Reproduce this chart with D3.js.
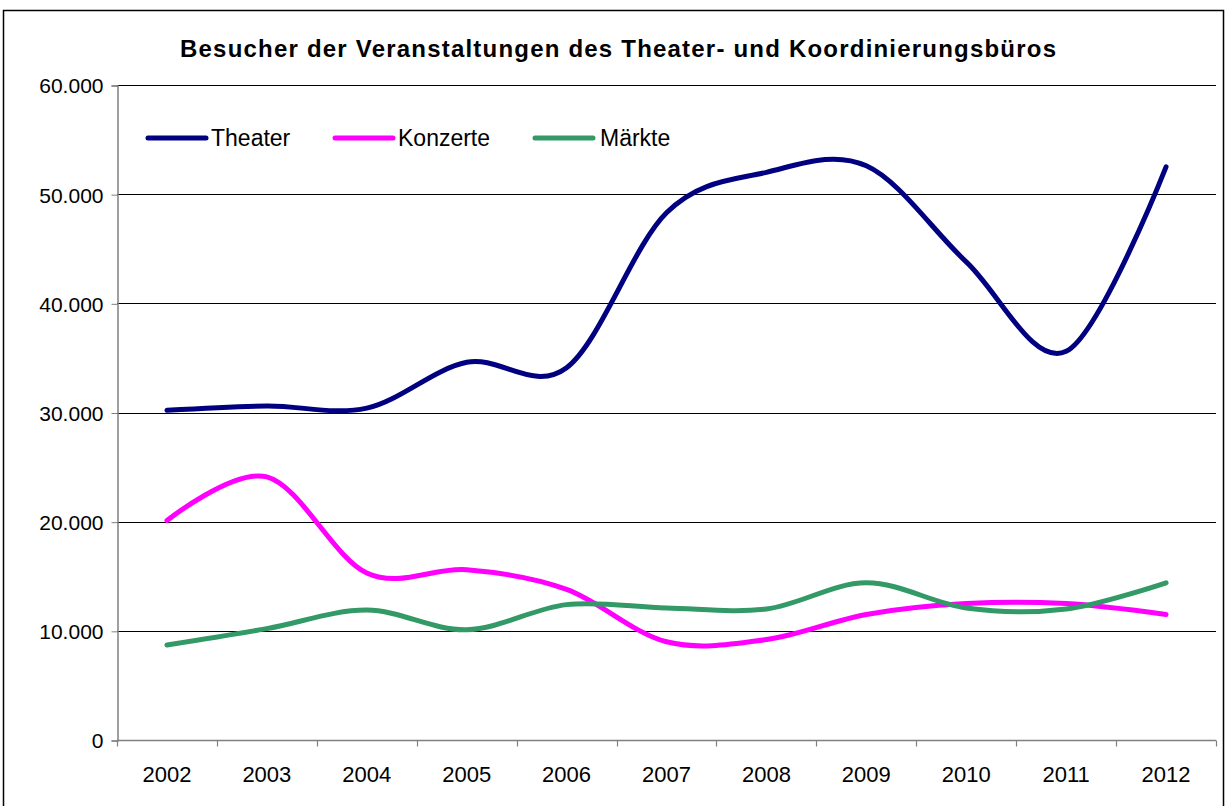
<!DOCTYPE html>
<html>
<head>
<meta charset="utf-8">
<script src="https://cdn.jsdelivr.net/npm/d3@7"></script>
<style>
  html, body { margin: 0; padding: 0; background: #fff; }
  svg { display: block; }
  text { font-family: "Liberation Sans", Arial, sans-serif; fill: #000; }
</style>
</head>
<body>
<svg id="chart" width="1226" height="806"></svg>
<script>
const title = "Besucher der Veranstaltungen des Theater- und Koordinierungsbüros";
const years = ["2002","2003","2004","2005","2006","2007","2008","2009","2010","2011","2012"];
const theater  = [30200, 30600, 30400, 34600, 34100, 48300, 52000, 52600, 43800, 35600, 52500];
const konzerte = [20100, 24100, 15300, 15600, 13800, 9000, 9200, 11500, 12500, 12500, 11500];
const maerkte  = [8700, 10200, 11900, 10100, 12400, 12100, 12000, 14400, 12100, 12000, 14400];
const seriesNames = ["Theater", "Konzerte", "Märkte"];
const seriesColors = ["#000080", "#FF00FF", "#339966"];
const yTicks = [0, 10000, 20000, 30000, 40000, 50000, 60000];

const series = [theater, konzerte, maerkte].map((vals, i) => ({
  name: seriesNames[i], color: seriesColors[i], values: vals
}));

const svg = d3.select("#chart");
const plotL = 117, plotR = 1216, plotT = 85, plotB = 740;

const x = d3.scaleBand().domain(years).range([plotL, plotR]).paddingInner(0).paddingOuter(0);
const y = d3.scaleLinear().domain([0, 60000]).range([plotB, plotT]);
const fmt = v => d3.format(",")(v).replace(/,/g, ".");

// outer frame
svg.append("rect").attr("x", 3.5).attr("y", 10.5).attr("width", 1220).attr("height", 806)
  .attr("fill", "none").attr("stroke", "#000").attr("stroke-width", 1.5);

// title
svg.append("text").attr("x", 618).attr("y", 57).attr("text-anchor", "middle")
  .attr("font-size", 24).attr("font-weight", "bold")
  .attr("textLength", 876).attr("lengthAdjust", "spacing")
  .text(title);

// gridlines
svg.append("g").selectAll("line").data(yTicks.filter(d => d > 0)).join("line")
  .attr("x1", plotL).attr("x2", plotR)
  .attr("y1", d => Math.round(y(d)) + 0.5).attr("y2", d => Math.round(y(d)) + 0.5)
  .attr("stroke", "#000").attr("stroke-width", 1);

// y axis
const yAxis = d3.axisLeft(y).tickValues(yTicks).tickFormat(fmt).tickSize(6).tickPadding(8);
const gy = svg.append("g").attr("transform", `translate(${plotL + 0.5},0.5)`).call(yAxis);
gy.select(".domain").attr("stroke", "#808080").attr("stroke-width", 1.5);
gy.selectAll(".tick line").attr("stroke", "#808080");
gy.selectAll(".tick text").attr("font-size", 21).attr("font-family", "Liberation Sans, Arial, sans-serif").attr("fill", "#000").attr("dy", "0.35em");

// x axis (ticks between categories)
const gx = svg.append("g").attr("transform", `translate(0,${plotB + 0.5})`);
gx.append("line").attr("x1", plotL).attr("x2", plotR).attr("y1", 0).attr("y2", 0)
  .attr("stroke", "#808080").attr("stroke-width", 1.5);
const boundaries = years.map(d => x(d)).concat([x(years[years.length - 1]) + x.bandwidth()]);
gx.selectAll("line.t").data(boundaries).join("line").attr("class", "t")
  .attr("x1", d => Math.round(d) + 0.5).attr("x2", d => Math.round(d) + 0.5)
  .attr("y1", 0).attr("y2", 6).attr("stroke", "#808080").attr("stroke-width", 1.2);
gx.selectAll("text").data(years).join("text")
  .attr("x", d => x(d) + x.bandwidth() / 2).attr("y", 41)
  .attr("text-anchor", "middle").attr("font-size", 22).text(d => d);

// lines
const line = d3.line()
  .x((d, i) => x(years[i]) + x.bandwidth() / 2)
  .y(d => y(d))
  .curve(d3.curveCatmullRom.alpha(0));

svg.append("g").selectAll("path").data(series).join("path")
  .attr("d", d => line(d.values))
  .attr("fill", "none").attr("stroke", d => d.color)
  .attr("stroke-width", 5).attr("stroke-linecap", "round").attr("stroke-linejoin", "round");

// legend
const legendPos = [{lx: 148, tx: 211}, {lx: 335, tx: 398}, {lx: 535, tx: 600}];
const lg = svg.append("g");
series.forEach((s, i) => {
  const p = legendPos[i];
  lg.append("line").attr("x1", p.lx).attr("x2", p.lx + 58).attr("y1", 138).attr("y2", 138)
    .attr("stroke", s.color).attr("stroke-width", 5).attr("stroke-linecap", "round");
  lg.append("text").attr("x", p.tx).attr("y", 138).attr("dy", "0.36em")
    .attr("font-size", 23).text(s.name);
});
</script>
</body>
</html>
